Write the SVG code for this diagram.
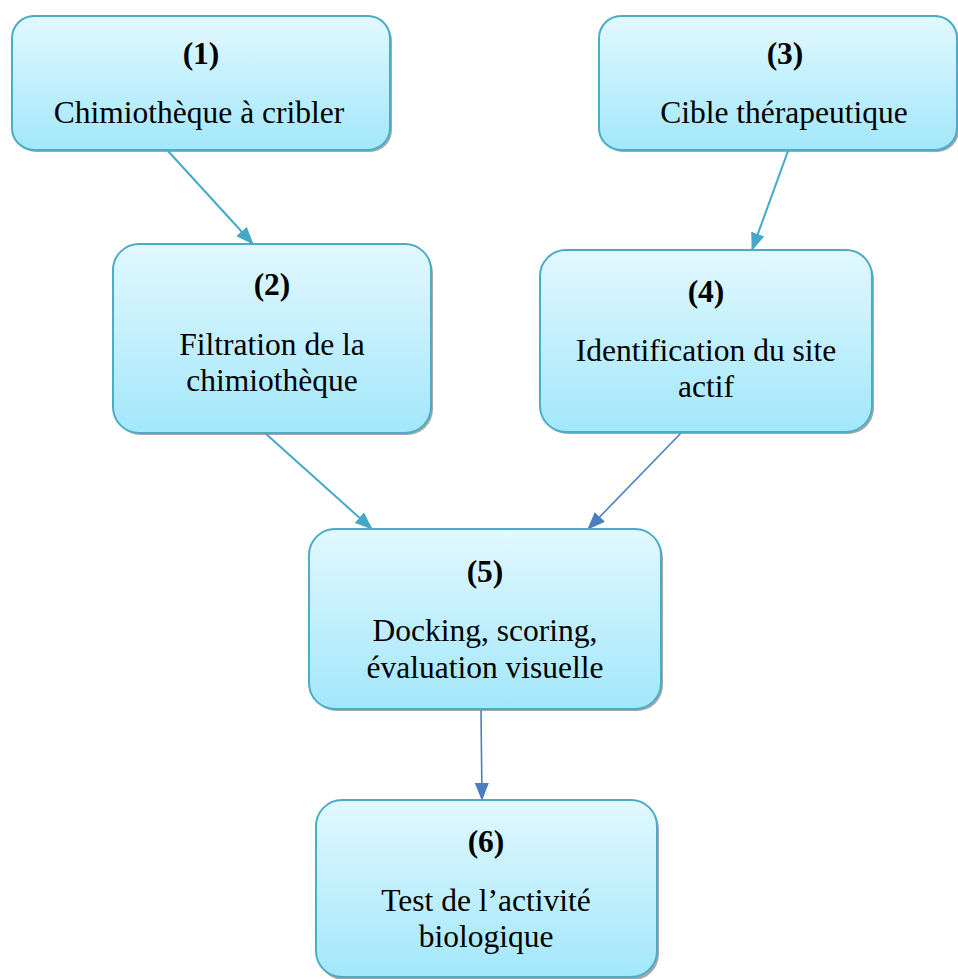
<svg xmlns="http://www.w3.org/2000/svg" width="958" height="979" viewBox="0 0 958 979">
<defs>
<linearGradient id="g" x1="0" y1="0" x2="0" y2="1">
<stop offset="0" stop-color="#E2F8FE"/>
<stop offset="1" stop-color="#A2E7FB"/>
</linearGradient>
<marker id="at" markerWidth="18" markerHeight="14" refX="17" refY="7" orient="auto" markerUnits="userSpaceOnUse">
<path d="M0,0 L18,7 L0,14 Z" fill="#44A9C6"/>
</marker>
<marker id="ab" markerWidth="18" markerHeight="14" refX="17" refY="7" orient="auto" markerUnits="userSpaceOnUse">
<path d="M0,0 L18,7 L0,14 Z" fill="#4A7EBF"/>
</marker>
</defs>
<style>
.sh{fill:#8a8a8a;opacity:0.75}
.bx{fill:url(#g);stroke:#4BACC6;stroke-width:2}
.t{font-family:"Liberation Serif","Times New Roman",serif;font-size:31.5px;fill:#000;text-anchor:middle}
.b{font-weight:bold}
.ct{stroke:#44A9C6;stroke-width:2;fill:none;marker-end:url(#at)}
.cb{stroke:#4A7EBF;stroke-width:1.6;fill:none;marker-end:url(#ab)}
</style>
<g id="connectors">
<line class="ct" x1="168" y1="151" x2="253" y2="244"/>
<line class="ct" x1="788" y1="151" x2="752" y2="250"/>
<line class="ct" x1="265" y1="433" x2="372" y2="529"/>
<line class="cb" x1="681" y1="433" x2="588" y2="529"/>
<line class="cb" x1="481" y1="710" x2="482" y2="800"/>
</g>
<g id="n1">
<rect class="sh" x="14" y="19" width="378" height="133" rx="22"/>
<rect class="bx" x="12" y="16" width="378" height="134" rx="22"/>
<text class="t b" x="201" y="64">(1)</text>
<text class="t" x="199" y="123">Chimiothèque à cribler</text>
</g>
<g id="n3">
<rect class="sh" x="601" y="19" width="358" height="133" rx="22"/>
<rect class="bx" x="599" y="16" width="358" height="134" rx="22"/>
<text class="t b" x="785" y="64">(3)</text>
<text class="t" x="784" y="123">Cible thérapeutique</text>
</g>
<g id="n2">
<rect class="sh" x="115" y="247" width="318" height="188" rx="26"/>
<rect class="bx" x="113" y="244" width="318" height="189" rx="26"/>
<text class="t b" x="272" y="295">(2)</text>
<text class="t" x="272" y="355">Filtration de la</text>
<text class="t" x="272" y="391">chimiothèque</text>
</g>
<g id="n4">
<rect class="sh" x="542" y="253" width="332" height="181" rx="26"/>
<rect class="bx" x="540" y="250" width="332" height="182" rx="26"/>
<text class="t b" x="706" y="302">(4)</text>
<text class="t" x="706" y="361">Identification du site</text>
<text class="t" x="706" y="397">actif</text>
</g>
<g id="n5">
<rect class="sh" x="311" y="532" width="352" height="179" rx="26"/>
<rect class="bx" x="309" y="529" width="352" height="180" rx="26"/>
<text class="t b" x="485" y="582">(5)</text>
<text class="t" x="485" y="641">Docking, scoring,</text>
<text class="t" x="485" y="678">évaluation visuelle</text>
</g>
<g id="n6">
<rect class="sh" x="318" y="803" width="341" height="177" rx="26"/>
<rect class="bx" x="316" y="800" width="341" height="177" rx="26"/>
<text class="t b" x="486" y="852">(6)</text>
<text class="t" x="486" y="911">Test de l’activité</text>
<text class="t" x="486" y="947">biologique</text>
</g>
</svg>
